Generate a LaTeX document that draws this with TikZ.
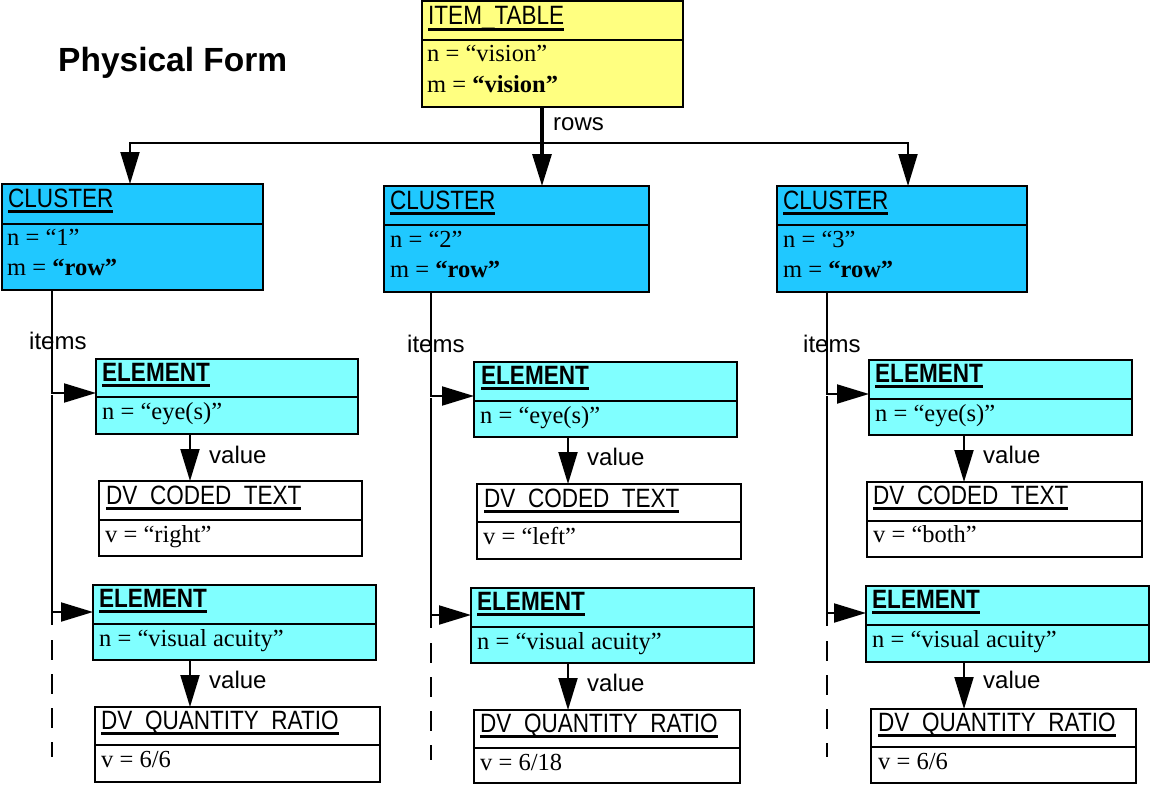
\documentclass[tikz,border=0pt]{standalone}
\usepackage{fontspec}
\setmainfont{Liberation Serif}
\setsansfont{Liberation Sans}
\newfontfamily\myhdrfam[FakeStretch=0.85]{Liberation Sans}
\usetikzlibrary{arrows.meta}
\definecolor{itemyellow}{HTML}{FFFF80}
\definecolor{clusterblue}{HTML}{20C8FF}
\definecolor{elemcyan}{HTML}{80FFFF}
\newcommand\myhdrfont{\myhdrfam\fontsize{26.5pt}{30pt}\selectfont}
\newcommand\mybodyfont{\rmfamily\fontsize{24.5pt}{30pt}\selectfont}
\newcommand\mylblfont{\sffamily\fontsize{24pt}{28pt}\selectfont}
\newcommand\mytitlefont{\sffamily\bfseries\fontsize{33.5pt}{38pt}\selectfont}
\newcommand\myul[1]{\setbox0=\hbox{#1}\rlap{\rule[-0.23em]{\wd0}{0.12em}}\box0}
\tikzset{
  umlframe/.style={draw=black, line width=2pt, anchor=north west, inner sep=0pt, outer sep=0pt},
  divline/.style={line width=2pt},
  thindiv/.style={line width=1.3pt},
  hdr/.style={font=\myhdrfont, anchor=base west, inner sep=0pt},
  hdrb/.style={font=\myhdrfont\bfseries, anchor=base west, inner sep=0pt},
  bodytxt/.style={font=\mybodyfont, anchor=base west, inner sep=0pt},
  lbl/.style={font=\mylblfont, anchor=base west, inner sep=0pt},
  conn/.style={line width=2pt, -{Triangle[length=32pt,width=19pt]}},
  mainconn/.style={line width=3.2pt, -{Triangle[length=32pt,width=19pt]}},
  plainline/.style={line width=2pt},
  dashline/.style={line width=2pt, dash pattern=on 20pt off 14pt}
}
% name, x0, y0, x1, y1, divider y, fill
\newcommand\umlbox[7]{%
  \node[umlframe, fill=#7, minimum width=#4pt-#2pt, minimum height=#5pt-#3pt] (#1) at (#2,#3) {};
  \draw[divline] (#1.west |- 0,#6) -- (#1.east |- 0,#6);
}
\newcommand\dvbox[6]{%
  \node[umlframe, fill=white, minimum width=#4pt-#2pt, minimum height=#5pt-#3pt] (#1) at (#2,#3) {};
  \draw[thindiv] (#1.west |- 0,#6) -- (#1.east |- 0,#6);
}
\begin{document}
\begin{tikzpicture}[x=1pt,y=-1pt]
\fill[white] (0,0) rectangle (1150,784);
\useasboundingbox (0,0) rectangle (1150,784);

% title
\node[font=\mytitlefont, anchor=base west, inner sep=0pt] (title) at (58,71) {Physical Form};

% item table
\umlbox{it}{422}{1}{683}{107}{40}{itemyellow}
\node[hdr] (ith) at (428,25) {\myul{ITEM\_TABLE}};
\node[bodytxt] (itn) at (427,62) {n = “vision”};
\node[bodytxt] (itm) at (427,92) {m = \textbf{“vision”}};

% clusters
\umlbox{c1}{2}{184}{263}{290}{224}{clusterblue}
\node[hdr] (c1h) at (8,207) {\myul{CLUSTER}};
\node[bodytxt] (c1n) at (7,245) {n = “1”};
\node[bodytxt] (c1m) at (7,275) {m = \textbf{“row”}};

\umlbox{c2}{384}{186}{649}{292}{225}{clusterblue}
\node[hdr] (c2h) at (390,209) {\myul{CLUSTER}};
\node[bodytxt] (c2n) at (390,247) {n = “2”};
\node[bodytxt] (c2m) at (390,277) {m = \textbf{“row”}};

\umlbox{c3}{777}{186}{1027}{292}{225}{clusterblue}
\node[hdr] (c3h) at (783,209) {\myul{CLUSTER}};
\node[bodytxt] (c3n) at (783,247) {n = “3”};
\node[bodytxt] (c3m) at (783,277) {m = \textbf{“row”}};

% rows connectors
\node[lbl] (rowsl) at (553,130) {rows};
\coordinate (bus) at (542,143);
\draw[mainconn] (it.south -| 542,0) -- (c2.north -| 542,0);
\draw[conn] (bus) -| (c1.north -| 130,0);
\draw[conn] (bus) -| (c3.north -| 908,0);

% ---------- column 1 ----------
\umlbox{e1a}{96}{359}{358}{434}{397}{elemcyan}
\node[hdrb] (e1ah) at (102,381) {\myul{ELEMENT}};
\node[bodytxt] (e1an) at (102,419) {n = “eye(s)”};
\dvbox{d1a}{99}{481}{362}{556}{520}
\node[hdr] (d1ah) at (106,504) {\myul{DV\_CODED\_TEXT}};
\node[bodytxt] (d1av) at (105,542) {v = “right”};
\umlbox{e1b}{93}{585}{376}{660}{624}{elemcyan}
\node[hdrb] (e1bh) at (99,607) {\myul{ELEMENT}};
\node[bodytxt] (e1bn) at (99,646) {n = “visual acuity”};
\dvbox{d1b}{95}{707}{380}{782}{745}
\node[hdr] (d1bh) at (101,729) {\myul{DV\_QUANTITY\_RATIO}};
\node[bodytxt] (d1bv) at (101,767) {v = 6/6};

\node[lbl] (items1) at (29,349) {items};
\draw[conn] (c1.south -| 52,0) |- (e1a.west |- 0,393);
\coordinate (j1) at (52,395);
\coordinate (j1e) at (52,625);
\draw[plainline] (j1) -- (j1e);
\draw[conn] (j1) |- (e1b.west |- 0,612);
\coordinate (k1s) at (52,640);
\coordinate (k1e) at (52,757);
\draw[dashline] (k1s) -- (k1e);
\node[lbl] (val1a) at (209,463) {value};
\draw[conn] (e1a.south -| 190,0) -- (d1a.north -| 190,0);
\node[lbl] (val1b) at (209,688) {value};
\draw[conn] (e1b.south -| 190,0) -- (d1b.north -| 190,0);

% ---------- column 2 ----------
\umlbox{e2a}{474}{362}{737}{437}{401}{elemcyan}
\node[hdrb] (e2ah) at (481,384) {\myul{ELEMENT}};
\node[bodytxt] (e2an) at (480,423) {n = “eye(s)”};
\dvbox{d2a}{477}{484}{741}{559}{522}
\node[hdr] (d2ah) at (484,507) {\myul{DV\_CODED\_TEXT}};
\node[bodytxt] (d2av) at (483,544) {v = “left”};
\umlbox{e2b}{471}{588}{754}{663}{627}{elemcyan}
\node[hdrb] (e2bh) at (477,610) {\myul{ELEMENT}};
\node[bodytxt] (e2bn) at (477,649) {n = “visual acuity”};
\dvbox{d2b}{474}{710}{740}{783}{748}
\node[hdr] (d2bh) at (480,732) {\myul{DV\_QUANTITY\_RATIO}};
\node[bodytxt] (d2bv) at (480,770) {v = 6/18};

\node[lbl] (items2) at (407,352) {items};
\draw[conn] (c2.south -| 431,0) |- (e2a.west |- 0,396);
\coordinate (j2) at (431,398);
\coordinate (j2e) at (431,628);
\draw[plainline] (j2) -- (j2e);
\draw[conn] (j2) |- (e2b.west |- 0,615);
\coordinate (k2s) at (431,643);
\coordinate (k2e) at (431,760);
\draw[dashline] (k2s) -- (k2e);
\node[lbl] (val2a) at (587,465) {value};
\draw[conn] (e2a.south -| 568,0) -- (d2a.north -| 568,0);
\node[lbl] (val2b) at (587,691) {value};
\draw[conn] (e2b.south -| 568,0) -- (d2b.north -| 568,0);

% ---------- column 3 ----------
\umlbox{e3a}{869}{360}{1132}{435}{399}{elemcyan}
\node[hdrb] (e3ah) at (875,382) {\myul{ELEMENT}};
\node[bodytxt] (e3an) at (875,421) {n = “eye(s)”};
\dvbox{d3a}{867}{482}{1142}{557}{521}
\node[hdr] (d3ah) at (873,504) {\myul{DV\_CODED\_TEXT}};
\node[bodytxt] (d3av) at (873,542) {v = “both”};
\umlbox{e3b}{866}{586}{1149}{662}{625}{elemcyan}
\node[hdrb] (e3bh) at (872,608) {\myul{ELEMENT}};
\node[bodytxt] (e3bn) at (872,647) {n = “visual acuity”};
\dvbox{d3b}{871}{709}{1136}{783}{747}
\node[hdr] (d3bh) at (878,731) {\myul{DV\_QUANTITY\_RATIO}};
\node[bodytxt] (d3bv) at (878,769) {v = 6/6};

\node[lbl] (items3) at (803,352) {items};
\draw[conn] (c3.south -| 827,0) |- (e3a.west |- 0,394);
\coordinate (j3) at (827,396);
\coordinate (j3e) at (827,626);
\draw[plainline] (j3) -- (j3e);
\draw[conn] (j3) |- (e3b.west |- 0,613);
\coordinate (k3s) at (827,641);
\coordinate (k3e) at (827,757);
\draw[dashline] (k3s) -- (k3e);
\node[lbl] (val3a) at (983,463) {value};
\draw[conn] (e3a.south -| 964,0) -- (d3a.north -| 964,0);
\node[lbl] (val3b) at (983,688) {value};
\draw[conn] (e3b.south -| 964,0) -- (d3b.north -| 964,0);
\end{tikzpicture}
\end{document}
